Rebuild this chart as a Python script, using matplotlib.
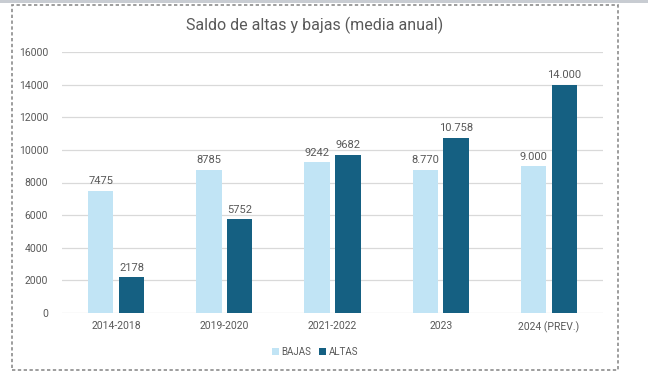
import numpy as np
import matplotlib.pyplot as plt
from matplotlib.patches import Rectangle

plt.rcParams['font.family'] = ['Roboto', 'DejaVu Sans']

categories = ['2014-2018', '2019-2020', '2021-2022', '2023', '2024 (PREV.)']
bajas = [7475, 8785, 9242, 8770, 9000]
altas = [2178, 5752, 9682, 10758, 14000]
bajas_labels = ['7475', '8785', '9242', '8.770', '9.000']
altas_labels = ['2178', '5752', '9682', '10.758', '14.000']

c_bajas = '#C1E4F5'
c_altas = '#156082'
txt = '#595959'

fig = plt.figure(figsize=(6.48, 3.78), dpi=100)
ax = fig.add_axes([62/648, 1-313/378, 541/648, 261/378])

x = np.arange(len(categories))
w = 0.235
off = 0.143
b1 = ax.bar(x - off, bajas, w, color=c_bajas, label='BAJAS', zorder=3)
b2 = ax.bar(x + off, altas, w, color=c_altas, label='ALTAS', zorder=3)

for rect, lab in zip(b1, bajas_labels):
    ax.text(rect.get_x() + rect.get_width()/2, rect.get_height() + 280, lab,
            ha='center', va='bottom', fontsize=8, color=txt)
for rect, lab in zip(b2, altas_labels):
    ax.text(rect.get_x() + rect.get_width()/2, rect.get_height() + 280, lab,
            ha='center', va='bottom', fontsize=8, color=txt)

ax.set_xlim(-0.5, len(categories) - 0.5)
ax.set_ylim(0, 16000)
ax.set_yticks(range(0, 16001, 2000))
ax.set_xticks(x)
ax.set_xticklabels(categories)
ax.tick_params(axis='both', length=0, labelsize=7.5, colors=txt)
ax.tick_params(axis='y', pad=10)
ax.tick_params(axis='x', pad=6)
ax.grid(axis='y', color='#D9D9D9', linewidth=0.9, zorder=0)
for s in ax.spines.values():
    s.set_visible(False)

fig.text(315/648, 1-25/378, 'Saldo de altas y bajas (media anual)',
         ha='center', va='center', fontsize=11.5, color=txt)

leg = fig.legend(handles=[b1, b2], labels=['BAJAS', 'ALTAS'], loc='center',
                 bbox_to_anchor=(315/648, 1-352/378), ncol=2, frameon=False,
                 fontsize=7, handlelength=0.7, handleheight=0.7,
                 handletextpad=0.3, columnspacing=0.8)
for t in leg.get_texts():
    t.set_color(txt)

# dashed frame around the chart
fig.patches.append(Rectangle((12/648, 1-370/378), 606/648, 365/378,
                             transform=fig.transFigure, fill=False,
                             edgecolor='#8C8C8C', linestyle=(0, (2, 1.5)),
                             linewidth=1.2))
fig.patches.append(Rectangle((0, 1-3/378), 1, 3/378, transform=fig.transFigure,
                             color='#C8CCD2', linewidth=0))

fig.savefig('out.png', dpi=100)
